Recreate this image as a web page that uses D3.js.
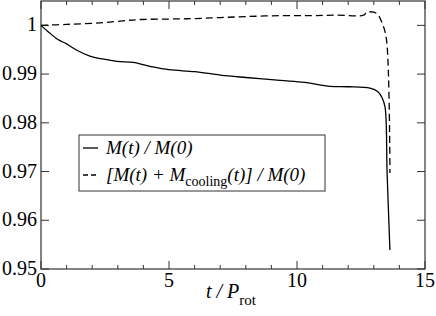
<!DOCTYPE html>
<html>
<head>
<meta charset="utf-8">
<script src="https://cdn.jsdelivr.net/npm/d3@7"></script>
<style>
  body { margin: 0; background: #fff; }
  svg text { font-family: "Liberation Serif", "Times New Roman", serif; }
</style>
</head>
<body>
<svg id="chart" width="436" height="316"></svg>
<script>
// values
var massT = [0, 0.3, 0.66, 1.0, 1.4, 1.91, 2.4, 2.97, 3.6, 4.26, 5.0, 6.0, 7.0, 8.0, 9.34, 10.3, 11.29, 12.0, 12.85, 13.16, 13.32, 13.44, 13.52, 13.63];
var massV = [1.0, 0.9986, 0.9971, 0.9962, 0.9949, 0.9937, 0.9931, 0.9926, 0.9924, 0.9916, 0.9909, 0.9905, 0.9898, 0.9893, 0.9887, 0.9883, 0.9875, 0.9874, 0.9871, 0.9864, 0.9852, 0.9832, 0.9697, 0.9539];
var sumT = [0, 1.0, 2.3, 3.35, 3.9, 5.0, 6.0, 7.0, 8.0, 9.34, 10.5, 11.5, 12.6, 12.73, 13.1, 13.36, 13.5, 13.63];
var sumV = [1.0, 1.0002, 1.0005, 1.001, 1.0012, 1.0013, 1.0014, 1.0016, 1.0018, 1.002, 1.002, 1.0021, 1.0021, 1.0027, 1.0025, 1.0, 0.9969, 0.9697];
var xTicks = [0, 5, 10, 15];
var yTicks = [0.95, 0.96, 0.97, 0.98, 0.99, 1];

var svg = d3.select("#chart");
var padL = 41, padT = 1, w = 384, h = 268;

var x = d3.scaleLinear().domain([0, 15]).range([padL, padL + w]);
var y = d3.scaleLinear().domain([0.95, 1.005]).range([padT + h, padT]);

// ticks, pointing inward
var minor = d3.range(0, 15.01, 1).filter(function (d) { return d % 5 !== 0; });
function ticksX(g, yPos, dir) {
  g.selectAll(".mj").data(xTicks).enter().append("line")
    .attr("x1", x).attr("x2", x)
    .attr("y1", yPos).attr("y2", yPos + dir * 8);
  g.selectAll(".mn").data(minor).enter().append("line")
    .attr("x1", x).attr("x2", x)
    .attr("y1", yPos).attr("y2", yPos + dir * 4);
}
function ticksY(g, xPos, dir) {
  g.selectAll("line").data(yTicks).enter().append("line")
    .attr("x1", xPos).attr("x2", xPos + dir * 8)
    .attr("y1", y).attr("y2", y);
}
var tg = svg.append("g").attr("stroke", "#333").attr("stroke-width", 1);
ticksX(tg.append("g"), padT + h, -1);
ticksX(tg.append("g"), padT, 1);
ticksY(tg.append("g"), padL, 1);
ticksY(tg.append("g"), padL + w, -1);

svg.append("rect")
  .attr("x", padL).attr("y", padT).attr("width", w).attr("height", h)
  .attr("fill", "none").attr("stroke", "#333").attr("stroke-width", 1.2);

// tick labels
svg.append("g").selectAll("text").data(xTicks).enter().append("text")
  .attr("x", x).attr("y", 287)
  .attr("text-anchor", "middle").attr("font-size", 20)
  .text(function (d) { return d; });
svg.append("g").selectAll("text").data(yTicks).enter().append("text")
  .attr("x", 37).attr("y", function (d) { return y(d) + 6; })
  .attr("text-anchor", "end").attr("font-size", 20)
  .text(function (d) { return d === 1 ? "1" : d3.format(".2f")(d); });

// curves
var line = d3.line()
  .x(function (d) { return x(d[0]); })
  .y(function (d) { return y(d[1]); })
  .curve(d3.curveCatmullRom);
svg.append("path")
  .datum(d3.zip(massT, massV))
  .attr("d", line)
  .attr("fill", "none").attr("stroke", "#000").attr("stroke-width", 1.3);
svg.append("path")
  .datum(d3.zip(sumT, sumV))
  .attr("d", line)
  .attr("fill", "none").attr("stroke", "#000").attr("stroke-width", 1.3)
  .attr("stroke-dasharray", "7,4");

// legend
var lg = svg.append("g");
lg.append("rect").attr("x", 79).attr("y", 135).attr("width", 246).attr("height", 56)
  .attr("fill", "#fff").attr("stroke", "#333").attr("stroke-width", 1);
lg.append("line").attr("x1", 83).attr("x2", 98).attr("y1", 148).attr("y2", 148)
  .attr("stroke", "#000").attr("stroke-width", 1.3);
lg.append("line").attr("x1", 83).attr("x2", 98).attr("y1", 175).attr("y2", 175)
  .attr("stroke", "#000").attr("stroke-width", 1.3).attr("stroke-dasharray", "5,3");
lg.append("text").attr("x", 106).attr("y", 154).attr("font-size", 19)
  .attr("font-style", "italic").text("M(t) / M(0)");
var t2 = lg.append("text").attr("x", 106).attr("y", 181).attr("font-size", 19).attr("font-style", "italic");
t2.append("tspan").text("[M(t) + M");
t2.append("tspan").attr("font-style", "normal").attr("font-size", 14).attr("dy", 5).text("cooling");
t2.append("tspan").attr("dy", -5).text("(t)] / M(0)");

// axis title
var xl = svg.append("text").attr("x", 231).attr("y", 298).attr("text-anchor", "middle")
  .attr("font-size", 20).attr("font-style", "italic");
xl.append("tspan").text("t / P");
xl.append("tspan").attr("font-style", "normal").attr("font-size", 15).attr("dy", 7).text("rot");
</script>
</body>
</html>
